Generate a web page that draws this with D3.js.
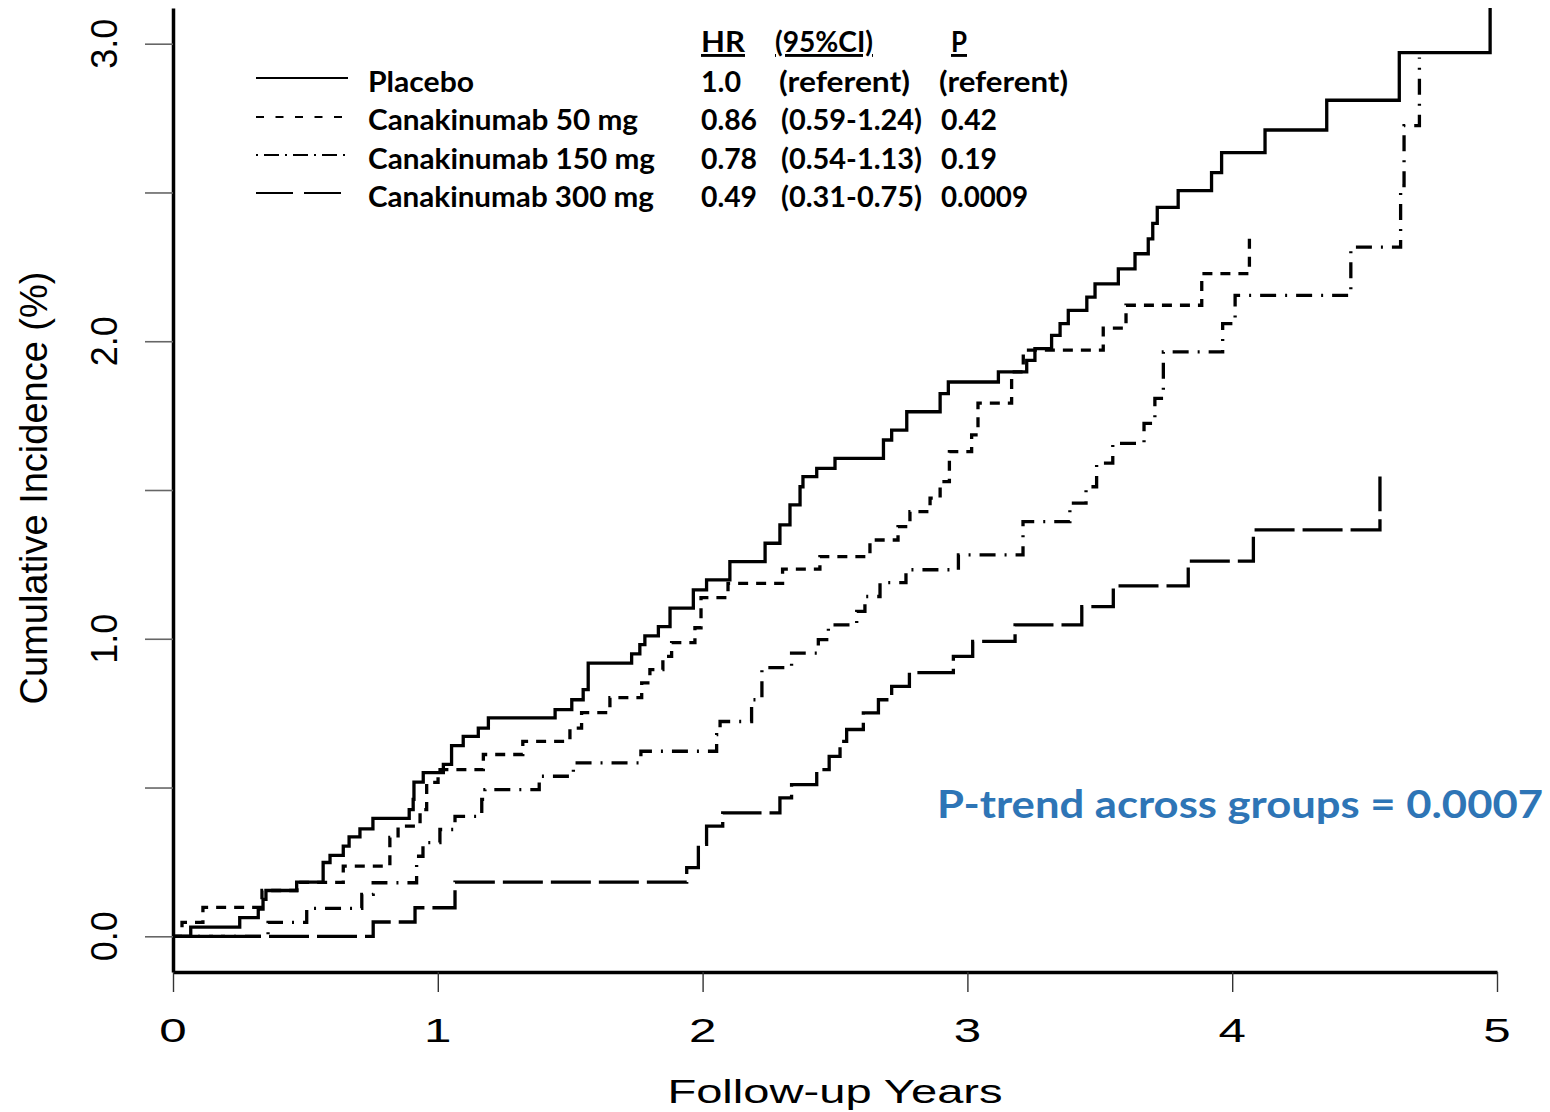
<!DOCTYPE html>
<html>
<head>
<meta charset="utf-8">
<script src="https://cdn.jsdelivr.net/npm/d3@7"></script>
<style>
  body { margin: 0; background: #fff; }
  svg { display: block; }
</style>
</head>
<body>
<script>
// cumulative incidence (%) vs follow-up years, one [year, value] per step
var placebo = [[0,0],[0.067,0.031],[0.252,0.063],[0.322,0.091],[0.340,0.124],[0.351,0.154],[0.467,0.182],
  [0.567,0.248],[0.593,0.272],[0.643,0.303],[0.665,0.334],[0.706,0.361],[0.755,0.396],[0.892,0.426],
  [0.907,0.460],[0.910,0.518],[0.945,0.550],[1.021,0.578],[1.052,0.641],[1.096,0.672],[1.153,0.700],
  [1.191,0.734],[1.443,0.762],[1.506,0.795],[1.549,0.829],[1.568,0.918],[1.732,0.949],[1.763,0.980],
  [1.782,1.010],[1.833,1.041],[1.877,1.103],[1.965,1.164],[2.015,1.198],[2.103,1.259],[2.236,1.321],
  [2.292,1.383],[2.330,1.450],[2.368,1.511],[2.379,1.545],[2.431,1.573],[2.500,1.606],[2.683,1.668],
  [2.714,1.701],[2.771,1.763],[2.897,1.824],[2.928,1.863],[3.117,1.897],[3.224,1.936],[3.255,1.975],
  [3.318,2.020],[3.350,2.059],[3.381,2.104],[3.451,2.148],[3.482,2.193],[3.570,2.243],[3.633,2.294],
  [3.683,2.344],[3.700,2.396],[3.717,2.450],[3.796,2.506],[3.922,2.567],[3.960,2.634],[4.124,2.710],
  [4.357,2.810],[4.631,2.970],[4.974,3.120]];

var cana50 = [[0,0],[0.034,0.047],[0.113,0.097],[0.336,0.154],[0.468,0.181],[0.643,0.236],[0.819,0.332],
  [0.850,0.370],[0.933,0.426],[0.958,0.517],[1.001,0.560],[1.172,0.611],[1.321,0.655],[1.499,0.700],
  [1.543,0.752],[1.650,0.802],[1.770,0.852],[1.801,0.896],[1.850,0.941],[1.883,0.987],[1.971,1.037],
  [1.994,1.138],[2.096,1.186],[2.302,1.234],[2.443,1.276],[2.632,1.332],[2.738,1.377],[2.783,1.427],
  [2.859,1.473],[2.897,1.528],[2.932,1.629],[3.016,1.685],[3.040,1.792],[3.167,1.897],[3.211,1.970],
  [3.513,2.044],[3.599,2.121],[3.885,2.227],[4.065,2.350]];

var cana150 = [[0,0],[0.359,0.047],[0.505,0.094],[0.713,0.141],[0.756,0.180],[0.920,0.269],[0.944,0.315],
  [1.008,0.359],[1.065,0.403],[1.166,0.460],[1.178,0.493],[1.383,0.538],[1.512,0.583],[1.767,0.622],
  [2.053,0.678],[2.066,0.722],[2.185,0.795],[2.224,0.903],[2.336,0.952],[2.437,0.997],[2.475,1.047],
  [2.582,1.092],[2.613,1.142],[2.670,1.189],[2.768,1.232],[2.966,1.282],[3.210,1.394],[3.387,1.456],
  [3.448,1.511],[3.488,1.590],[3.549,1.657],[3.667,1.724],[3.708,1.808],[3.740,1.964],[3.964,2.059],
  [4.011,2.154],[4.448,2.316],[4.636,2.523],[4.649,2.725],[4.707,2.954]];

var cana300 = [[0,0],[0.756,0.048],[0.914,0.096],[1.065,0.182],[1.940,0.231],[1.984,0.309],[2.015,0.370],
  [2.076,0.415],[2.292,0.465],[2.336,0.510],[2.431,0.560],[2.478,0.605],[2.519,0.655],[2.544,0.695],
  [2.607,0.751],[2.664,0.795],[2.714,0.840],[2.781,0.886],[2.947,0.941],[3.020,0.991],[3.180,1.047],
  [3.432,1.108],[3.551,1.178],[3.834,1.261],[4.080,1.366],[4.558,1.545]];

var groups = ["Placebo", "Canakinumab 50 mg", "Canakinumab 150 mg", "Canakinumab 300 mg"];
var hrs = ["1.0", "0.86", "0.78", "0.49"];
var cis = ["(referent)", "(0.59-1.24)", "(0.54-1.13)", "(0.31-0.75)"];
var pvals = ["(referent)", "0.42", "0.19", "0.0009"];
var xTicks = [0, 1, 2, 3, 4, 5];
var yTicks = [0, 0.5, 1, 1.5, 2, 2.5, 3];
var yLabels = [0, 1, 2, 3];

var W = 1550, H = 1112;
var series = [cana300, cana150, cana50, placebo];
var dashes = ["40,8", "16,9,2,9", "10,8", null];        // plot line styles (300, 150, 50, placebo)
var legendDashes = [null, "8,11.5", "2,6,15,6", "37,11"]; // legend order

var svg = d3.select("body").append("svg")
    .attr("width", W)
    .attr("height", H);

var x = d3.scaleLinear().domain([0, 5]).range([173, 1497]);
var y = d3.scaleLinear().domain([-0.12, 3.12]).range([972, 8]);

// Y axis
var yAxis = svg.append("g")
    .attr("transform", "translate(" + x(0) + ",0)")
    .call(d3.axisLeft(y).tickValues(yTicks).tickSize(28).tickSizeOuter(0).tickFormat(""));
yAxis.select(".domain").attr("stroke", "#000").attr("stroke-width", 3.5);
yAxis.selectAll(".tick line").attr("stroke", "#666").attr("stroke-width", 1.6);

// X axis
var xAxis = svg.append("g")
    .attr("transform", "translate(0," + y.range()[0] + ")")
    .call(d3.axisBottom(x).tickValues(xTicks).tickSize(20).tickSizeOuter(0).tickFormat(""));
xAxis.select(".domain").attr("stroke", "#000").attr("stroke-width", 3.5);
xAxis.selectAll(".tick line").attr("stroke", "#333").attr("stroke-width", 1.4);

// tick labels
svg.selectAll(".ylab")
    .data(yLabels)
    .enter()
  .append("text")
    .attr("class", "ylab")
    .attr("transform", function(d) { return "translate(117," + y(d) + ") rotate(-90)"; })
    .attr("text-anchor", "middle")
    .style("font-family", "'Liberation Sans', Arial, sans-serif")
    .style("font-size", "36px")
    .text(function(d) { return d.toFixed(1); });

svg.selectAll(".xlab")
    .data(xTicks)
    .enter()
  .append("text")
    .attr("class", "xlab")
    .attr("transform", function(d) { return "translate(" + x(d) + ",1042) scale(1.45,1)"; })
    .attr("text-anchor", "middle")
    .style("font-family", "'Liberation Sans', Arial, sans-serif")
    .style("font-size", "34px")
    .text(function(d) { return d; });

// axis titles
svg.append("text")
    .attr("transform", "translate(835,1103) scale(1.45,1)")
    .attr("text-anchor", "middle")
    .style("font-family", "'Liberation Sans', Arial, sans-serif")
    .style("font-size", "32.5px")
    .text("Follow-up Years");

svg.append("text")
    .attr("transform", "translate(47,488) rotate(-90)")
    .attr("text-anchor", "middle")
    .style("font-family", "'Liberation Sans', Arial, sans-serif")
    .style("font-size", "38px")
    .text("Cumulative Incidence (%)");

// step curves
var line = d3.line()
    .x(function(d) { return x(d[0]); })
    .y(function(d) { return y(d[1]); })
    .curve(d3.curveStepAfter);

svg.selectAll(".curve")
    .data(series)
    .enter()
  .append("path")
    .attr("class", "curve")
    .attr("d", line)
    .attr("fill", "none")
    .attr("stroke", "#000")
    .attr("stroke-width", 3.3)
    .attr("stroke-dasharray", function(d, i) { return dashes[i]; });

// legend + HR table
var rowY = [92, 130, 169, 207];
var lineY = [78, 117, 155, 193];
var boldFont = "Lato, 'Open Sans', sans-serif";

function addText(txt, tx, ty, len, size) {
    var t = svg.append("text")
        .attr("x", tx)
        .attr("y", ty)
        .style("font-family", boldFont)
        .style("font-weight", "bold")
        .style("font-size", (size || 29) + "px")
        .text(txt);
    if (len) t.attr("textLength", len).attr("lengthAdjust", "spacingAndGlyphs");
    return t;
}

var legendWidths = [106, 270, 287, 286];
var hrWidths = [40, 56, 56, 56];
var ciWidths = [131, 141, 141, 141];
var pWidths = [129, 56, 56, 87];

groups.forEach(function(g, i) {
    svg.append("line")
        .attr("x1", 256).attr("x2", 348)
        .attr("y1", lineY[i]).attr("y2", lineY[i])
        .attr("stroke", "#000")
        .attr("stroke-width", 2)
        .attr("stroke-dasharray", legendDashes[i]);
    addText(g, 368, rowY[i], legendWidths[i]);
    addText(hrs[i], 701, rowY[i], hrWidths[i]);
    addText(cis[i], i === 0 ? 779 : 781, rowY[i], ciWidths[i]);
    addText(pvals[i], i === 0 ? 939 : 941, rowY[i], pWidths[i]);
});

addText("HR", 701, 52, 44).style("text-decoration", "underline");
addText("(95%CI)", 775, 52, 98).style("text-decoration", "underline");
addText("P", 951, 52, 16).style("text-decoration", "underline");

addText("P-trend across groups = 0.0007", 937, 818, 606, 39)
    .style("fill", "#2E75B6");
</script>
</body>
</html>
